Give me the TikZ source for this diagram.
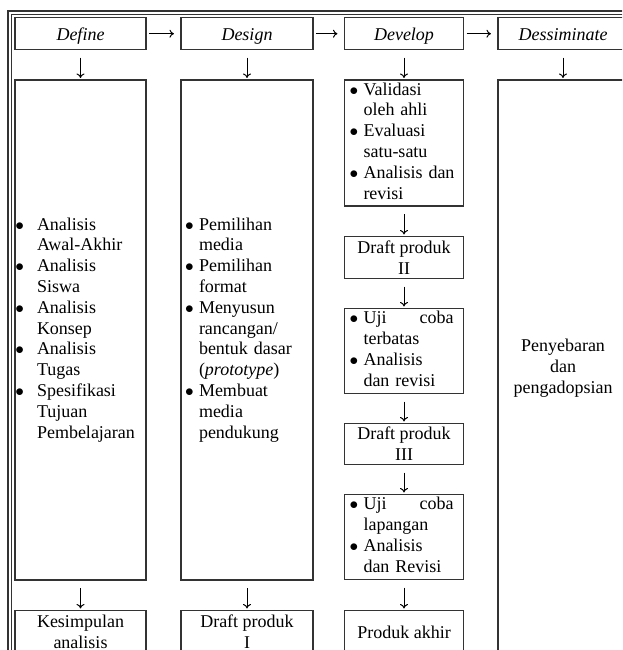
\documentclass[tikz,border=0pt]{standalone}
\usepackage{fontspec}
\setmainfont{Liberation Serif}
\usepackage{array}
\usetikzlibrary{arrows.meta}

\begin{document}
\begin{tikzpicture}[x=1pt,y=-1pt,>={To[length=4.5pt,width=8pt]},
        box/.style={draw=black!80,line width=1.1pt,rectangle,inner sep=0pt,text=black,font=\fontsize{18}{20.8}\selectfont},
        hd/.style={box,minimum height=32pt,text height=17pt,text depth=3pt,font=\fontsize{18}{20.8}\selectfont\itshape},
        lst/.style={box,align=left},
        harr/.style={line width=1pt,->,shorten <=2.5pt,shorten >=6.5pt},
        varr/.style={line width=1pt,->,shorten <=7.5pt,shorten >=1.5pt}]
        \clip (0,0) rectangle (622,650);
        % bingkai luar (garis ganda)
        \draw[line width=1.4pt,black!80] (8,11) rectangle (660,690);
        \draw[line width=1pt,black!80] (11.5,14.5) rectangle (656,686);
        % tahap
        \node[hd,minimum width=131pt] (hdef) at (80.5,33.7) {Define};
        \node[hd,minimum width=132pt] (hdes) at (247,33.7) {Design};
        \node[hd,minimum width=119pt] (hdev) at (404,33.7) {Develop};
        \node[hd,minimum width=130pt] (hdis) at (563,33.7) {Dessiminate};
        \draw[harr] (hdef)--(hdes);
        \draw[harr] (hdes)--(hdev);
        \draw[harr] (hdev)--(hdis);
        % define
        \node[lst,minimum width=131pt,minimum height=500pt,inner xsep=0.5pt,text width=130pt] (bdef) at (80.5,330) {%
            \begin{tabular}{@{}p{21.5pt}@{}l@{}}
            $\bullet$ & Analisis\\
                      & Awal-Akhir\\
            $\bullet$ & Analisis\\
                      & Siswa\\
            $\bullet$ & Analisis\\
                      & Konsep\\
            $\bullet$ & Analisis\\
                      & Tugas\\
            $\bullet$ & Spesifikasi\\
                      & Tujuan\\
                      & Pembelajaran
            \end{tabular}};
        \node[box,minimum width=131pt,minimum height=43pt,align=center] (kes) at (80.5,632) {Kesimpulan\\analisis};
        % design
        \node[lst,minimum width=132pt,minimum height=500pt,inner xsep=4pt,text width=124pt] (bdes) at (247,330) {%
            \begin{tabular}{@{}p{14pt}@{}l@{}}
            $\bullet$ & Pemilihan\\
                      & media\\
            $\bullet$ & Pemilihan\\
                      & format\\
            $\bullet$ & Menyusun\\
                      & rancangan/\\
                      & bentuk dasar\\
                      & (\textit{prototype})\\
            $\bullet$ & Membuat\\
                      & media\\
                      & pendukung
            \end{tabular}};
        \node[box,minimum width=132pt,minimum height=43pt,align=center] (dft1) at (247,632) {Draft produk\\I};
        % develop
        \node[lst,minimum width=119pt,minimum height=126pt,inner xsep=5pt,text width=109pt] (val) at (404,143) {%
            \begin{tabular}{@{}p{14pt}@{}l@{}}
            $\bullet$ & Validasi\\
                      & oleh ahli\\
            $\bullet$ & Evaluasi\\
                      & satu-satu\\
            $\bullet$ & Analisis dan\\
                      & revisi
            \end{tabular}};
        \node[box,minimum width=119pt,minimum height=42pt,align=center] (dft2) at (404,257.5) {Draft produk\\II};
        \node[lst,minimum width=119pt,minimum height=85pt,inner xsep=5pt,text width=109pt] (ujit) at (404,351) {%
            \begin{tabular}{@{}p{14pt}@{}l@{}}
            $\bullet$ & \makebox[90pt][l]{Uji\hfill coba}\\
                      & terbatas\\
            $\bullet$ & Analisis\\
                      & dan revisi
            \end{tabular}};
        \node[box,minimum width=119pt,minimum height=41pt,align=center] (dft3) at (404,444) {Draft produk\\III};
        \node[lst,minimum width=119pt,minimum height=85pt,inner xsep=5pt,text width=109pt] (ujil) at (404,537) {%
            \begin{tabular}{@{}p{14pt}@{}l@{}}
            $\bullet$ & \makebox[90pt][l]{Uji\hfill coba}\\
                      & lapangan\\
            $\bullet$ & Analisis\\
                      & dan Revisi
            \end{tabular}};
        \node[box,minimum width=119pt,minimum height=43pt] (akhir) at (404,632) {Produk akhir};
        % dessiminate
        \node[box,minimum width=130pt,minimum height=576pt,align=center] (bdis) at (563,368) {Penyebaran\\dan\\pengadopsian};
        % panah ke bawah
        \draw[varr] (hdef)--(bdef);
        \draw[varr] (hdes)--(bdes);
        \draw[varr] (hdev)--(val);
        \draw[varr] (hdis)--(bdis);
        \draw[varr] (bdef)--(kes);
        \draw[varr] (bdes)--(dft1);
        \draw[varr] (val)--(dft2);
        \draw[varr] (dft2)--(ujit);
        \draw[varr] (ujit)--(dft3);
        \draw[varr] (dft3)--(ujil);
        \draw[varr] (ujil)--(akhir);
    \end{tikzpicture}
\end{document}
